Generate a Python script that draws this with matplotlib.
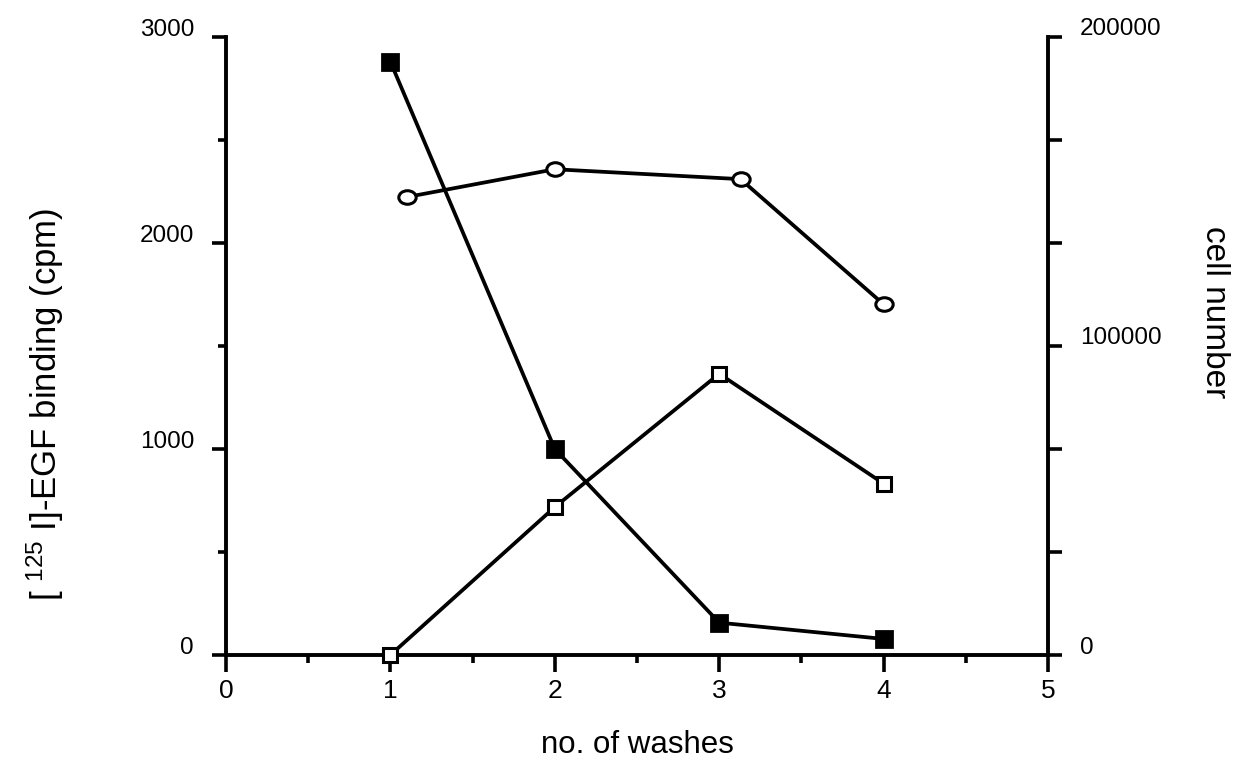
import numpy as np
import matplotlib
matplotlib.use("Agg")
import matplotlib.pyplot as plt
from matplotlib.path import Path
from matplotlib.markers import MarkerStyle
from matplotlib.transforms import Affine2D, ScaledTranslation
from matplotlib.ticker import FixedLocator

plt.rcParams['font.family'] = ['Liberation Sans', 'DejaVu Sans']
plt.rcParams['mathtext.default'] = 'regular'

# washes vs [125I]-EGF binding (left axis)
washes = [1, 2, 3, 4]
bound_filled = [2880, 1000, 157, 78]
bound_open = [0, 718, 1365, 832]

# cell number (right axis), slightly offset x positions as in the original
washes_cells = [1.1, 2.0, 3.13, 4.0]
cells = [148200, 157200, 154000, 113500]

fig = plt.figure(figsize=(12.51, 7.74), dpi=100)
ax = fig.add_axes([226/1251, 1 - 655/774, 822/1251, 618/774])
ax2 = ax.twinx()

lw = 2.7
ax.plot(washes, bound_filled, '-s', color='black', lw=lw, ms=12, mew=2,
        mfc='black', mec='black', clip_on=False, zorder=3)
ax.plot(washes, bound_open, '-s', color='black', lw=lw, ms=10, mew=2.2,
        mfc='white', mec='black', clip_on=False, zorder=4)

# slightly flattened circle marker
ellipse = Path.unit_circle().transformed(Affine2D().scale(1.0, 0.78))
ax2.plot(washes_cells, cells, '-', color='black', lw=lw, marker=MarkerStyle(ellipse),
         ms=12.5, mew=2.2, mfc='white', mec='black', clip_on=False, zorder=3)

ax.set_xlim(0, 5)
ax.set_ylim(0, 3000)
ax2.set_ylim(0, 200000)

for s in ['top', 'right']:
    ax.spines[s].set_visible(False)
for s in ['top', 'left', 'bottom']:
    ax2.spines[s].set_visible(False)
for sp in [ax.spines['left'], ax.spines['bottom'], ax2.spines['right']]:
    sp.set_linewidth(2.8)

ax.set_xticks([0, 1, 2, 3, 4, 5])
ax.xaxis.set_minor_locator(FixedLocator(np.arange(0.5, 5, 1.0)))
ax.set_yticks([0, 1000, 2000, 3000])
ax.yaxis.set_minor_locator(FixedLocator([500, 1500, 2500]))
ax2.set_yticks([0, 100000, 200000])
ax2.set_yticklabels(['0', '100000', '200000'])
ax2.yaxis.set_minor_locator(FixedLocator([200000/6*k for k in [1, 2, 4, 5]]))

tw = 2.6
ax.tick_params(axis='x', which='major', direction='out', length=12, width=tw, pad=5, labelsize=19)
ax.tick_params(axis='x', which='minor', direction='out', length=6, width=tw)
ax.tick_params(axis='y', which='major', direction='out', length=10, width=tw, pad=13, labelsize=17.5)
ax.tick_params(axis='y', which='minor', direction='out', length=6, width=tw)
ax2.tick_params(axis='y', which='both', direction='out', length=10, width=tw, pad=13, labelsize=17.5)

# tick labels sit a bit above their ticks in the original
up = ScaledTranslation(0, 10/100, fig.dpi_scale_trans)
for lab in ax.get_yticklabels() + ax2.get_yticklabels():
    lab.set_transform(lab.get_transform() + up)

ax.set_xlabel('no. of washes', fontsize=22.5, va='center')
ax.xaxis.set_label_coords(0.5, -0.146)
ax.set_ylabel(r'[ $^{125}$ I]-EGF binding (cpm)', fontsize=25, va='center')
ax.yaxis.set_label_coords(-0.22, 0.405)
ax2.set_ylabel('cell number', fontsize=24, rotation=270, va='center')
ax2.yaxis.set_label_coords(1.203, 0.555)

fig.savefig('out.png', dpi=100)
